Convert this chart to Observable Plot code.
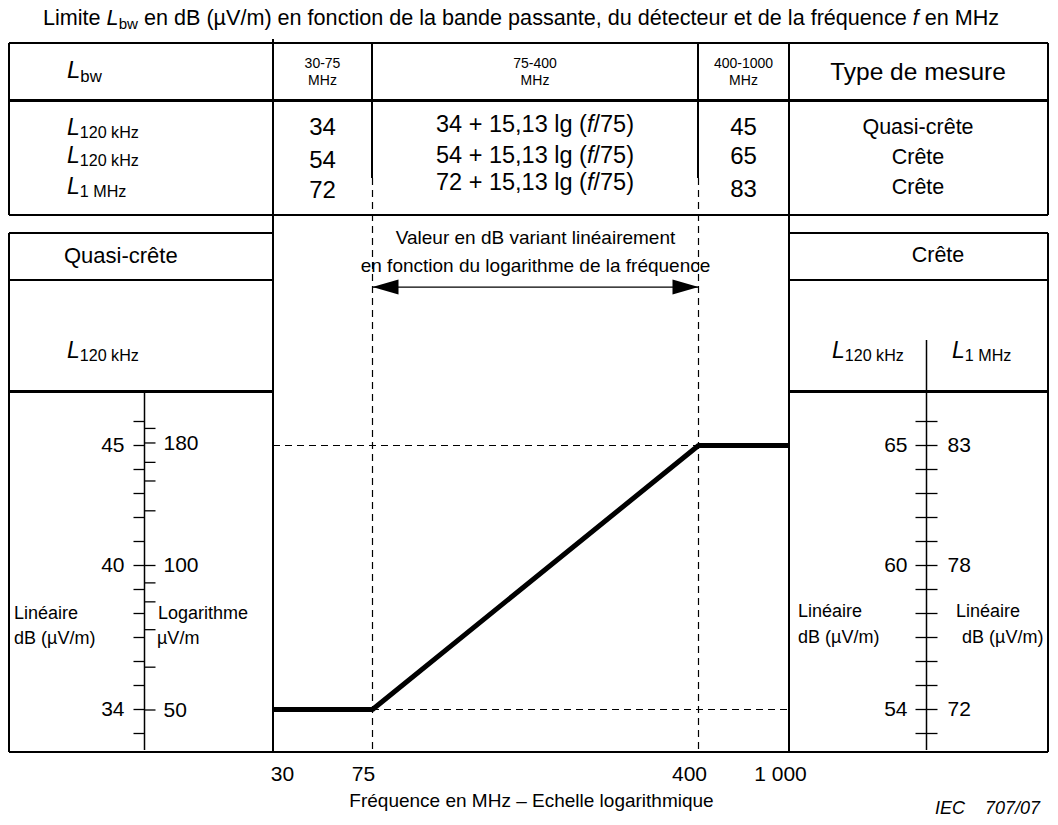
<!DOCTYPE html>
<html><head><meta charset="utf-8">
<script src="https://cdn.jsdelivr.net/npm/d3@7"></script>
<script src="https://cdn.jsdelivr.net/npm/@observablehq/plot@0.6"></script>
<style>
body{margin:0;background:#fff;font-family:"Liberation Sans",Arial,sans-serif;color:#000}
#fig{position:relative;width:1058px;height:825px;overflow:hidden;background:#fff}
#fig svg{position:absolute;top:0;overflow:visible;background:none}
.ln{position:absolute;background:#000}
.t{position:absolute;white-space:nowrap;line-height:1}
.c{transform:translate(-50%,-50%)}
.l{transform:translate(0,-50%)}
.r{transform:translate(-100%,-50%)}
sub{font-size:0.7em;vertical-align:-0.22em;line-height:0}
</style></head><body><div id="fig"></div>
<script>
// ---------------- data ----------------
const bandLabels = ["30-75", "75-400", "400-1000"];
const freqTicks = [30, 75, 400, 1000];
const bwSubs = ["120 kHz", "120 kHz", "1 MHz"];
const lowBandLimit = [34, 54, 72];
const slopeText = "15,13";
const highBandLimit = [45, 65, 83];
const measureTypes = ["Quasi-crête", "Crête", "Crête"];
const qpFreq = [30, 75, 400, 1000];
const qpLimit = [34, 34, 45, 45];
const qpDbTicks = [46, 45, 44, 43, 42, 41, 40, 39, 38, 37, 36, 35, 34, 33];
const qpDbLabels = [45, 40, 34];
const qpMuVLabels = [180, 100, 50];
const qpMuVMinor = [193, 164, 150, 130, 92, 84, 73.5, 61.4];
const pk120DbTicks = [66, 65, 64, 63, 62, 61, 60, 59, 58, 57, 56, 55, 54, 53];
const pk120Labels = [65, 60, 54];
const pk1MLabels = [83, 78, 72];
const arrowLevel = 51.6;   // dB level of the annotation arrow
const noteLines = ["Valeur en dB variant linéairement", "en fonction du logarithme de la fréquence"];

// ---------------- layout ----------------
const W = 1058, H = 825;
const yRange = [709, 445];
const fig = document.getElementById("fig");
const fmtF = d => d === 1000 ? "1 000" : String(d);
const toDb = v => 20 * Math.log10(v);
const FONT = "Liberation Sans, Arial, sans-serif";

const headLeft = {draw(c){c.moveTo(0,0);c.lineTo(26,-7.5);c.lineTo(26,7.5);c.closePath();}};
const headRight = {draw(c){c.moveTo(0,0);c.lineTo(-26,-7.5);c.lineTo(-26,7.5);c.closePath();}};

const main = Plot.plot({
  width: W, height: H,
  marginLeft: 273, marginRight: 269, marginTop: 178, marginBottom: 73,
  style: {fontFamily: FONT, background: "none", color: "#000"},
  x: {type: "log", domain: freqTicks, range: [273, 372, 698, 789], axis: null},
  y: {domain: [34, 45], range: yRange, axis: null},
  marks: [
    Plot.ruleX([75, 400], {stroke: "#000", strokeWidth: 1.2, strokeDasharray: "7,5"}),
    Plot.ruleY([{y: 45, x1: 30, x2: 400}, {y: 34, x1: 75, x2: 1000}],
      {y: "y", x1: "x1", x2: "x2", stroke: "#000", strokeWidth: 1.2, strokeDasharray: "7,5"}),
    Plot.line(qpFreq.map((f, i) => ({f, db: qpLimit[i]})),
      {x: "f", y: "db", stroke: "#000", strokeWidth: 5, strokeLinecap: "butt", strokeLinejoin: "miter"}),
    Plot.ruleY([arrowLevel], {x1: 75, x2: 400, stroke: "#000", strokeWidth: 1.3}),
    Plot.dot([75], {x: d => d, y: () => arrowLevel, symbol: headLeft, fill: "#000", stroke: "none"}),
    Plot.dot([400], {x: d => d, y: () => arrowLevel, symbol: headRight, fill: "#000", stroke: "none"}),
    Plot.text([noteLines[0]], {x: () => Math.sqrt(75 * 400), frameAnchor: "top", dy: 52, fontSize: 19, fill: "#000"}),
    Plot.text([noteLines[1]], {x: () => Math.sqrt(75 * 400), frameAnchor: "top", dy: 80, fontSize: 19, fill: "#000"}),
    Plot.text(freqTicks.slice(0, 1), {x: d => d, text: fmtF, frameAnchor: "bottom", dy: 28, dx: 9, fontSize: 21, fill: "#000"}),
    Plot.text(freqTicks.slice(1), {x: d => d, text: fmtF, frameAnchor: "bottom", dy: 28, dx: -9, fontSize: 21, fill: "#000"}),
    Plot.text(["Fréquence en MHz – Echelle logarithmique"], {frameAnchor: "bottom", dy: 54, fontSize: 19, fill: "#000"})
  ]
});
main.style.left = "0px";
fig.appendChild(main);

// side scale panels: x is a small local offset scale around the axis line
function sidePanel({width, left, axisAt, top, yDomain, leftTicks, rightTicks, leftLabels, rightLabels, rightLabelY, gapL, gapR}) {
  const p = Plot.plot({
    width, height: H, marginLeft: 0, marginRight: 0, marginTop: top, marginBottom: 75,
    style: {fontFamily: FONT, background: "none", color: "#000"},
    x: {domain: [-1, 1], range: [axisAt - 11, axisAt + 11], axis: null},
    y: {domain: yDomain, range: yRange, axis: null},
    marks: [
      Plot.ruleX([0], {stroke: "#000", strokeWidth: 1.5}),
      Plot.link(leftTicks, {x1: () => -1, x2: () => 0, y1: d => d, y2: d => d, stroke: "#000", strokeWidth: 1.3}),
      Plot.link(rightTicks, {x1: () => 0, x2: () => 1, y1: d => d, y2: d => d, stroke: "#000", strokeWidth: 1.3}),
      Plot.text(leftLabels, {x: () => -1, y: d => d, dx: -gapL, textAnchor: "end", fontSize: 21, fill: "#000"}),
      Plot.text(rightLabels, {x: () => 1, y: rightLabelY, dx: gapR, textAnchor: "start", fontSize: 21, fill: "#000"})
    ]
  });
  p.style.left = left + "px";
  fig.appendChild(p);
}
sidePanel({width: 264, left: 9, axisAt: 135, top: 391, yDomain: [34, 45],
  leftTicks: qpDbTicks, rightTicks: [...qpMuVLabels, ...qpMuVMinor].map(toDb),
  leftLabels: qpDbLabels, rightLabels: qpMuVLabels, rightLabelY: v => toDb(v), gapL: 9, gapR: 8});
const pkOffset = highBandLimit[2] - highBandLimit[1];
sidePanel({width: 259, left: 789, axisAt: 137, top: 340, yDomain: [54, 65],
  leftTicks: pk120DbTicks, rightTicks: pk120DbTicks,
  leftLabels: pk120Labels, rightLabels: pk1MLabels, rightLabelY: d => d - pkOffset, gapL: 8, gapR: 10});

// ---------------- HTML frame lines ----------------
function hline(x1, x2, y, t = 1.3) {
  const d = document.createElement("div"); d.className = "ln";
  Object.assign(d.style, {left: x1 + "px", top: (y - t / 2) + "px", width: (x2 - x1) + "px", height: t + "px"});
  fig.appendChild(d);
}
function vline(x, y1, y2, t = 1.3) {
  const d = document.createElement("div"); d.className = "ln";
  Object.assign(d.style, {left: (x - t / 2) + "px", top: y1 + "px", width: t + "px", height: (y2 - y1) + "px"});
  fig.appendChild(d);
}
function txt(html, x, y, cls, size, extra = {}) {
  const d = document.createElement("div"); d.className = "t " + cls; d.innerHTML = html;
  Object.assign(d.style, {left: x + "px", top: y + "px", fontSize: size + "px"}, extra);
  fig.appendChild(d);
}
const tT = 43, tH = 100, tB = 215, pT = 233, pD = 280, pK = 391, bot = 752;
const cx = [9, 273, 372, 698, 789, 1048];
hline(cx[0], cx[5], tT); hline(cx[0], cx[5], tH, 3); hline(cx[0], cx[5], tB);
vline(cx[0], tT, tB); vline(cx[5], tT, tB);
vline(cx[1], tT - 4, bot); vline(cx[2], tT, 178); vline(cx[3], tT, 178); vline(cx[4], tT, bot);
hline(cx[0], cx[1], pT); hline(cx[0], cx[1], pD); hline(cx[0], cx[1], pK, 3); vline(cx[0], pT, bot);
hline(cx[4], cx[5], pT); hline(cx[4], cx[5], pD); hline(cx[4], cx[5], pK, 3); vline(cx[5], pT, bot);
hline(cx[0], cx[5], bot);

// ---------------- texts ----------------
const Lsub = s => `<i>L</i><sub>${s}</sub>`;
txt(`Limite <i>L</i><sub>bw</sub> en dB (µV/m) en fonction de la bande passante, du détecteur et de la fréquence <i>f</i> en MHz`, 43, 18, "l", 21.6);
txt(Lsub("bw"), 67, 70, "l", 24);
const colC = [(cx[1] + cx[2]) / 2, (cx[2] + cx[3]) / 2, (cx[3] + cx[4]) / 2];
bandLabels.forEach((b, i) => { txt(b, colC[i], 63, "c", 14); txt("MHz", colC[i], 80, "c", 14); });
txt("Type de mesure", 918, 72, "c", 24.5);
const yL = [127, 155, 186], yLow = [127, 160, 190], yF = [125, 156, 183], yHi = [127, 156, 189], yTy = [128, 158, 188];
bwSubs.forEach((s, i) => {
  txt(Lsub(s), 67, yL[i], "l", 23);
  txt(String(lowBandLimit[i]), colC[0], yLow[i], "c", 24);
  txt(`${lowBandLimit[i]} + ${slopeText} lg (<i>f</i>/75)`, colC[1], yF[i], "c", 23.5);
  txt(String(highBandLimit[i]), colC[2], yHi[i], "c", 24);
  txt(measureTypes[i], 918, yTy[i], "c", 21.5);
});
txt(measureTypes[0], 64, 256, "l", 22);
txt(Lsub(bwSubs[0]), 67, 350, "l", 23);
txt(measureTypes[1], 938, 256, "c", 21.5);
txt(Lsub(bwSubs[0]), 832, 350, "l", 23);
txt(Lsub(bwSubs[2]), 952, 350, "l", 23);
txt("Linéaire", 14, 613, "l", 18); txt("dB (µV/m)", 14, 638, "l", 18);
txt("Logarithme", 158, 613, "l", 18); txt("µV/m", 157, 638, "l", 18);
txt("Linéaire", 798, 611, "l", 18); txt("dB (µV/m)", 798, 637, "l", 18);
txt("Linéaire", 956, 611, "l", 18); txt("dB (µV/m)", 962, 637, "l", 18);
txt("IEC<span style='display:inline-block;width:20px'></span>707/07", 1040, 808, "r", 18, {fontStyle: "italic"});
</script></body></html>
